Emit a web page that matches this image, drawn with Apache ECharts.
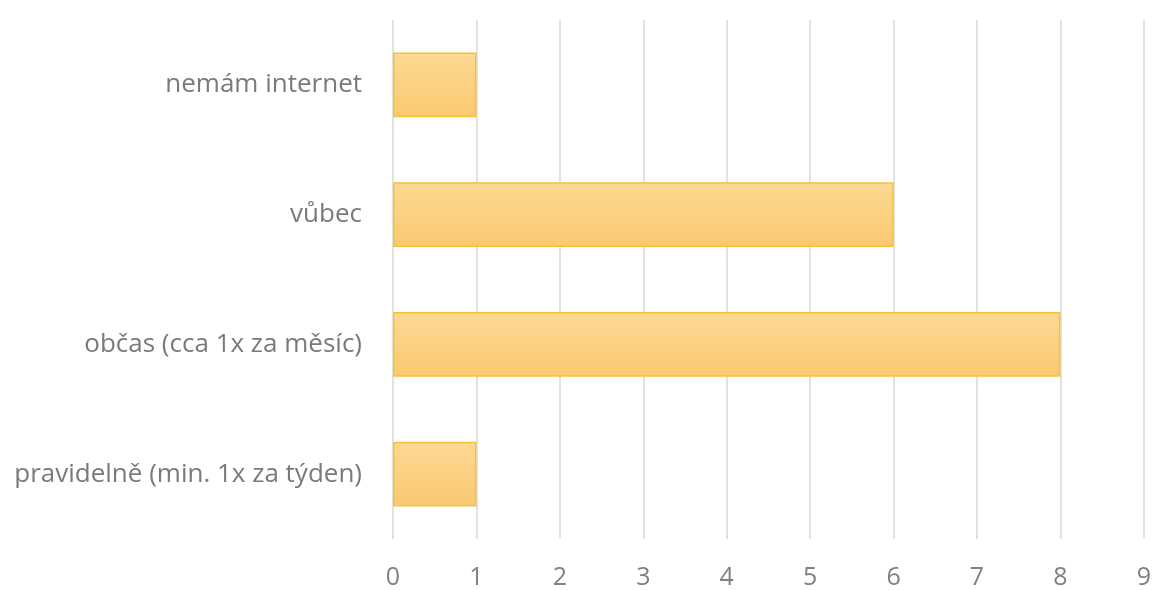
<!DOCTYPE html>
<html><head><meta charset="utf-8">
<script src="https://cdn.jsdelivr.net/npm/echarts@6/dist/echarts.min.js"></script>
<style>html,body{margin:0;padding:0;background:#fff}#c{width:1154px;height:590px}</style>
</head><body><div id="c"></div>
<script>
const categories = ["pravidelně (min. 1x za týden)", "občas (cca 1x za měsíc)", "vůbec", "nemám internet"];
const values = [1, 8, 6, 1];
const xTicks = [0, 1, 2, 3, 4, 5, 6, 7, 8, 9];

const chart = echarts.init(document.getElementById('c'));
chart.setOption({
  animation: false,
  grid: {left: 393, right: 6, top: 20, bottom: 50},
  xAxis: {
    type: 'value', min: xTicks[0], max: xTicks[xTicks.length - 1], interval: 1,
    axisLine: {show: false}, axisTick: {show: false},
    splitLine: {lineStyle: {color: '#d9d9d9', width: 1.5}},
    axisLabel: {color: '#808080', fontFamily: 'Open Sans', fontSize: 25, margin: 26}
  },
  yAxis: {
    type: 'category', data: categories,
    axisLine: {show: false}, axisTick: {show: false},
    axisLabel: {color: '#7a7a7a', fontFamily: 'Open Sans', fontSize: 26, margin: 31}
  },
  series: [{
    type: 'bar', data: values, barWidth: '50%',
    itemStyle: {
      color: new echarts.graphic.LinearGradient(0, 0, 0, 1, [
        {offset: 0, color: '#fdd994'},
        {offset: 1, color: '#fac970'}
      ]),
      borderColor: '#f3c13a', borderWidth: 1.5
    }
  }]
});
</script></body></html>
